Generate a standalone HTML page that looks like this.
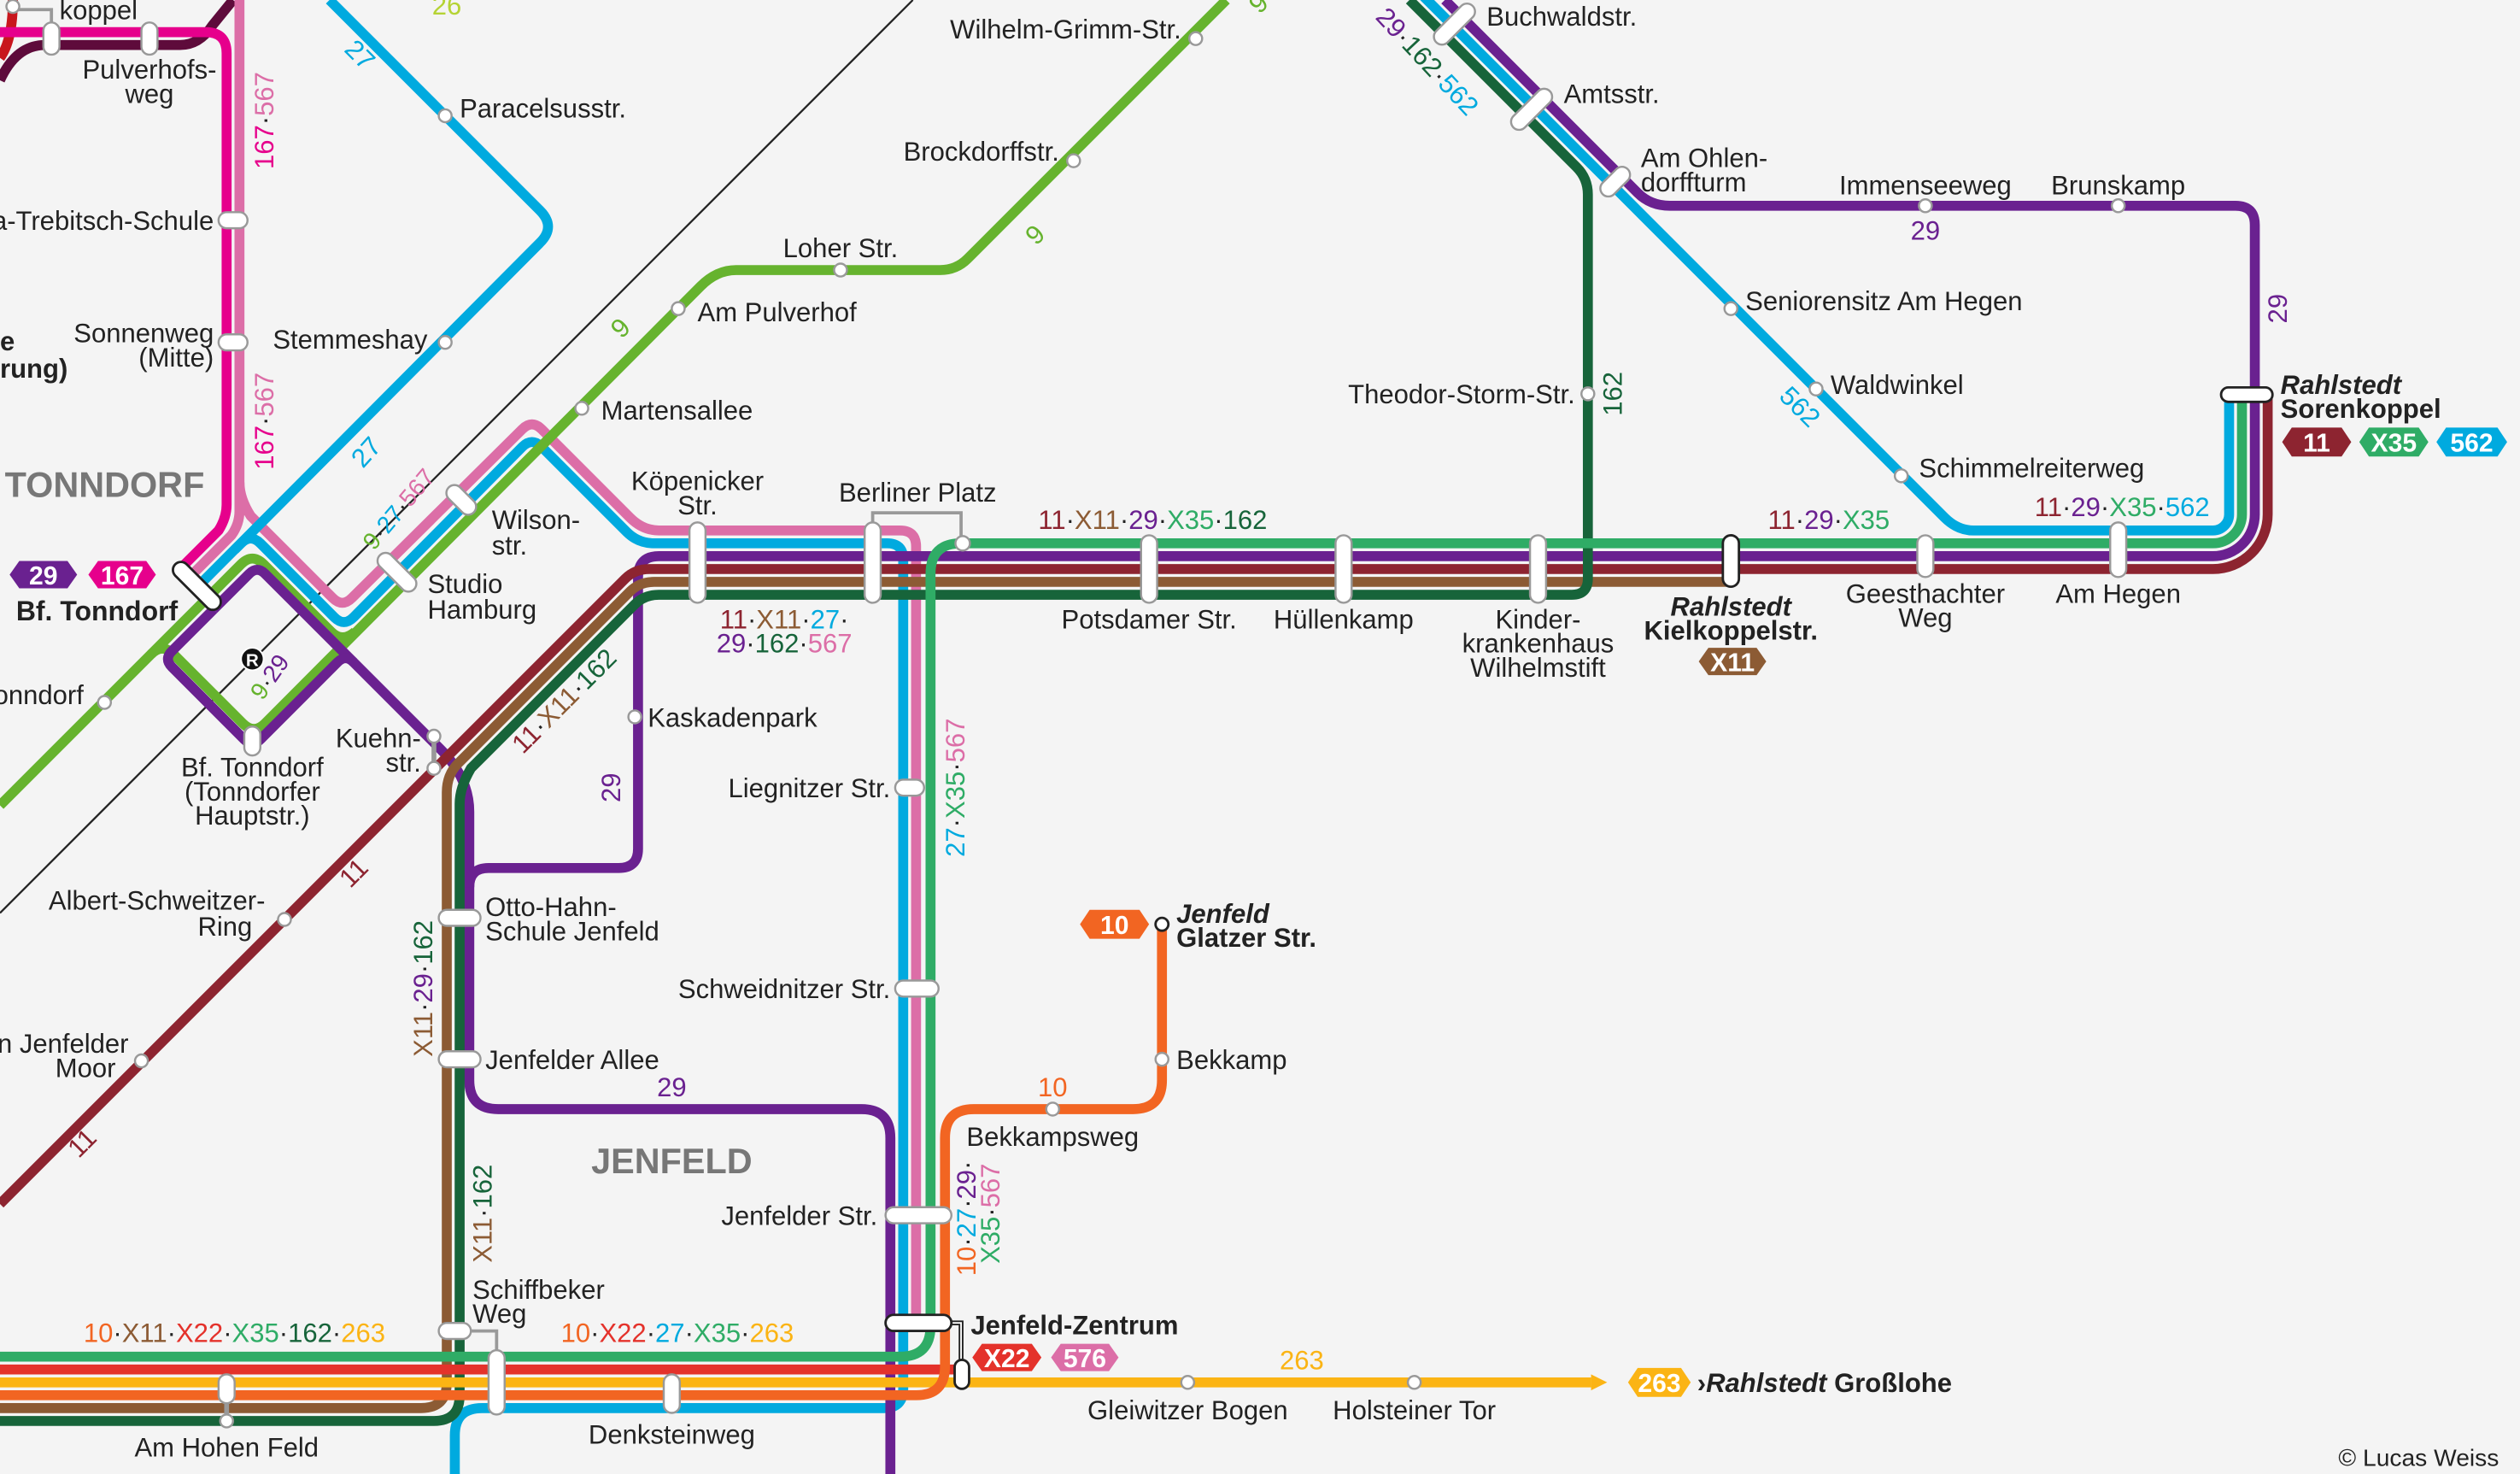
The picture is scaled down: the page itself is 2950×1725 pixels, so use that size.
<!DOCTYPE html>
<html><head><meta charset="utf-8"><style>
html,body{margin:0;padding:0;background:#f4f4f4;overflow:hidden}
svg{display:block}
text{font-family:"Liberation Sans Narrow","Liberation Sans",sans-serif;font-size:16.5px}
.b{font-weight:bold}
.bi{font-weight:bold;font-style:italic}
.ln{fill:none;stroke-width:6.2;stroke-linejoin:round;stroke-linecap:butt}
.st{fill:#fff;stroke:#999;stroke-width:1.3}
.sd{fill:#fff;stroke:#222;stroke-width:1.5}
.bt{fill:#fff;font-weight:bold;font-size:16px;text-anchor:middle}
.m{text-anchor:middle}
.e{text-anchor:end}
</style></head><body>
<svg width="2950" height="1725" viewBox="0 0 1568 917" preserveAspectRatio="none" xmlns="http://www.w3.org/2000/svg">
<rect width="1568" height="917" fill="#f4f4f4"/>
<path d="M0,568 L568,0" stroke="#222" stroke-width="1.2" fill="none"/>
<path class="ln" stroke="#c8161d" d="M0,36 Q8,25 8,0"/>
<path class="ln" stroke="#5e0b3b" d="M0,50 Q10,28 28,28 H112 Q124,28 132,16 L145,0"/>
<path class="ln" stroke="#e6008c" d="M0,20 H128 Q141,20 141,33 V314 Q141,322 136,330 L112,354"/>
<path class="ln" stroke="#dc6ea7" d="M149,0 V318 Q149,326 144,333 L118,359"/>
<path class="ln" stroke="#dc6ea7" d="M149,300 Q149,310 156,321 L207,372 Q213,378 219,372 L325,267 Q331,261 337,267 L392,322 Q400,330 410,330 H560 Q570,330 570,340 V823"/>
<path class="ln" stroke="#00aadf" d="M205,0 L336,131 Q346,141 336,151 L123,365"/>
<path class="ln" stroke="#00aadf" d="M146,342 L150,338 Q156,332 162,338 L208,384 Q214,390 220,384 L325,278 Q331,272 337,278 L390,331 Q397,338 407,338 H552 Q562,338 562,348 V864 Q562,876 550,876 H300 Q283,876 283,893 V917"/>
<path class="ln" stroke="#00aadf" d="M880,-8 L1210,322 Q1218,330 1228,330 H1377 A10,10 0 0 0 1387,320 V246"/>
<path class="ln" stroke="#66b32e" d="M0,501 L150,351 Q157,344 164,351 L206,393 Q213,400 221,393"/>
<path class="ln" stroke="#66b32e" d="M94,407 Q101,400 108,407 L151,450 Q158,457 165,450 L436,178 Q446,168 458,168 H585 Q595,168 602,161 L763,0"/>
<path class="ln" stroke="#6a2190" d="M133,379 L155,357 Q160,352 165,357 L274,466 Q292,484 292,505 V672 Q292,690 310,690 H536 Q554,690 554,708 V917"/>
<path class="ln" stroke="#6a2190" d="M133,379 L107,405 Q102,410 107,415 L152,460 Q157,465 162,460 L210,412 Q215,407 220,412"/>
<path class="ln" stroke="#6a2190" d="M899,0 L1019,120 Q1027,128 1039,128 H1391 Q1403,128 1403,140 V320 A26,26 0 0 1 1377,346 H410 Q397,346 397,359 V528 Q397,540 385,540 H304 Q292,540 292,552"/>
<path class="ln" stroke="#8d2430" d="M0,749 L389,360 Q395,354 404,354 H1377 A34,34 0 0 0 1411,320 V246"/>
<path class="ln" stroke="#8c5b34" d="M0,876 H262 Q278,876 278,860 V493 Q278,482 285,475 L392,368 Q398,362 407,362 H1077"/>
<path class="ln" stroke="#17643a" d="M0,884 H270 Q286,884 286,868 V500 Q286,490 293,478 L395,376 Q401,370 410,370 H978 Q988,370 988,360 V121 Q988,111 981,104 L877,0"/>
<path class="ln" stroke="#2fac66" d="M0,844 H560 Q579,844 579,825 V357 Q579,338 598,338 H1377 A18,18 0 0 0 1395,320 V246"/>
<path class="ln" stroke="#e4322b" d="M0,852 H599"/>
<path class="ln" stroke="#fbb414" d="M0,860 H990"/>
<path d="M990,855 L1000,860 L990,865Z" fill="#fbb414"/>
<path class="ln" stroke="#f26522" d="M0,868 H570 Q588,868 588,850 V708 Q588,690 606,690 H705 Q723,690 723,672 V575"/>

<circle cx="157" cy="410" r="7" fill="#111" stroke="#fff" stroke-width="1"/>
<text x="157" y="414.5" class="m b" style="font-size:11px;fill:#fff">R</text>

<g>
<path d="M32,18 V6 H10" stroke="#999" stroke-width="2" fill="none"/>
<circle class="st" cx="8" cy="4" r="4"/>
<rect class="st" x="27" y="14" width="10" height="20" rx="5"/>
<rect class="st" x="88" y="14" width="10" height="20" rx="5"/>
<rect class="st" x="136" y="132" width="18" height="10" rx="5"/>
<rect class="st" x="136" y="208" width="18" height="10" rx="5"/>
<circle class="st" cx="277" cy="72" r="4"/>
<circle class="st" cx="277" cy="213" r="4"/>
<rect class="sd" x="-5" y="-19" width="10" height="38" rx="5" transform="translate(122.5,364.5) rotate(-45)"/>
<rect class="st" x="-5" y="-15" width="10" height="30" rx="5" transform="translate(247,356) rotate(-45)"/>
<rect class="st" x="-5" y="-11" width="10" height="22" rx="5" transform="translate(287,311) rotate(-45)"/>
<rect class="st" x="152" y="452" width="10" height="18" rx="5"/>
<circle class="st" cx="65" cy="437" r="4"/>
<path d="M270,458 V478" stroke="#999" stroke-width="3"/>
<circle class="st" cx="270" cy="458" r="4"/>
<circle class="st" cx="270" cy="478" r="4"/>
<circle class="st" cx="362" cy="254" r="4"/>
<circle class="st" cx="422" cy="192" r="4"/>
<circle class="st" cx="523" cy="168" r="4"/>
<circle class="st" cx="668" cy="100" r="4"/>
<circle class="st" cx="744" cy="24" r="4"/>
<circle class="st" cx="177" cy="572" r="4"/>
<circle class="st" cx="88" cy="660" r="4"/>
<rect class="st" x="429" y="325" width="10" height="50" rx="5"/>
<path d="M543,325 V319 H598 V334" stroke="#999" stroke-width="2" fill="none"/>
<rect class="st" x="538" y="325" width="10" height="50" rx="5"/>
<circle class="st" cx="599" cy="338" r="4.5"/>
<rect class="st" x="710" y="333" width="10" height="42" rx="5"/>
<rect class="st" x="831" y="333" width="10" height="42" rx="5"/>
<rect class="st" x="952" y="333" width="10" height="42" rx="5"/>
<rect class="sd" x="1072" y="333" width="10" height="32" rx="5"/>
<rect class="st" x="1193" y="333" width="10" height="26" rx="5"/>
<rect class="st" x="1313" y="325" width="10" height="34" rx="5"/>
<rect class="sd" x="1382" y="241" width="32" height="9" rx="4.5"/>
<circle class="st" cx="988" cy="245" r="4"/>
<circle class="st" cx="1077" cy="192" r="4"/>
<circle class="st" cx="1130" cy="242" r="4"/>
<circle class="st" cx="1183" cy="296" r="4"/>
<circle class="st" cx="1198" cy="128" r="4"/>
<circle class="st" cx="1318" cy="128" r="4"/>
<rect class="st" x="-5" y="-11" width="10" height="22" rx="5" transform="translate(1005,113) rotate(45)"/>
<rect class="st" x="-5" y="-16" width="10" height="32" rx="5" transform="translate(953,68) rotate(45)"/>
<rect class="st" x="-5" y="-16" width="10" height="32" rx="5" transform="translate(905,15) rotate(45)"/>
<circle class="st" cx="395" cy="446" r="4"/>
<rect class="st" x="273" y="566" width="26" height="10" rx="5"/>
<rect class="st" x="273" y="654" width="26" height="10" rx="5"/>
<rect class="st" x="557" y="485" width="18" height="10" rx="5"/>
<rect class="st" x="557" y="610" width="27" height="10" rx="5"/>
<rect class="st" x="551" y="751" width="41" height="10" rx="5"/>
<path d="M592,823 H598 V848" stroke="#222" stroke-width="3" fill="none"/>
<path d="M592,823 H598 V848" stroke="#fff" stroke-width="1" fill="none"/>
<rect class="sd" x="551" y="818" width="41" height="10" rx="5"/>
<rect class="sd" x="594" y="846" width="9" height="18" rx="4.5"/>
<circle class="st" cx="655" cy="690" r="4"/>
<circle class="st" cx="723" cy="659" r="4"/>
<circle class="sd" cx="723" cy="575" r="4"/>
<circle class="st" cx="739" cy="860" r="4"/>
<circle class="st" cx="880" cy="860" r="4"/>
<rect class="st" x="413" y="855" width="10" height="24" rx="5"/>
<path d="M290,828 H309 V842" stroke="#999" stroke-width="2" fill="none"/>
<rect class="st" x="304" y="840" width="10" height="40" rx="5"/>
<rect class="st" x="273" y="823" width="20" height="10" rx="5"/>
<path d="M141,870 V884" stroke="#999" stroke-width="3"/>
<rect class="st" x="136" y="855" width="10" height="18" rx="5"/>
<circle class="st" cx="141" cy="884" r="4"/>
</g>

<g>
<polygon points="6,357.5 12,349 42,349 48,357.5 42,366 12,366" fill="#6a2190"/><text class="bt" x="27" y="363.5">29</text>
<polygon points="55,357.5 61,349 91,349 97,357.5 91,366 61,366" fill="#e6008c"/><text class="bt" x="76" y="363.5">167</text>
<polygon points="1057,411.5 1063,403 1093,403 1099,411.5 1093,420 1063,420" fill="#8c5b34"/><text class="bt" x="1078" y="417.5">X11</text>
<polygon points="1420,275 1426,266 1457,266 1463,275 1457,284 1426,284" fill="#8d2430"/><text class="bt" x="1441.5" y="281">11</text>
<polygon points="1468,275 1474,266 1505,266 1511,275 1505,284 1474,284" fill="#2fac66"/><text class="bt" x="1489.5" y="281">X35</text>
<polygon points="1516,275 1522,266 1554,266 1560,275 1554,284 1522,284" fill="#00aadf"/><text class="bt" x="1538" y="281">562</text>
<polygon points="672,575 678,566 709,566 715,575 709,584 678,584" fill="#f26522"/><text class="bt" x="693.5" y="581">10</text>
<polygon points="605,844.5 611,836 642,836 648,844.5 642,853 611,853" fill="#e4322b"/><text class="bt" x="626.5" y="850.5">X22</text>
<polygon points="654,844.5 660,836 690,836 696,844.5 690,853 660,853" fill="#dc6ea7"/><text class="bt" x="675" y="850.5">576</text>
<polygon points="1013,860 1019,851 1046,851 1052,860 1046,869 1019,869" fill="#fbb414"/><text class="bt" x="1032.5" y="866">263</text>
</g>

<g fill="#222">
<text x="37" y="12">koppel</text>
<text x="93" y="49" class="m">Pulverhofs-</text>
<text x="93" y="64" class="m">weg</text>
<text transform="translate(170,75) rotate(-90)" class="m"><tspan fill="#e6008c">167</tspan>·<tspan fill="#dc6ea7">567</tspan></text>
<text transform="translate(170,262) rotate(-90)" class="m"><tspan fill="#e6008c">167</tspan>·<tspan fill="#dc6ea7">567</tspan></text>
<text transform="translate(220,38) rotate(45)" class="m" fill="#00aadf">27</text>
<text transform="translate(232,285) rotate(-48)" class="m" fill="#00aadf">27</text>
<text x="278" y="9" class="m" fill="#b5d334">26</text>
<text x="286" y="73">Paracelsusstr.</text>
<text x="133" y="143" class="e">a-Trebitsch-Schule</text>
<text x="133" y="213" class="e">Sonnenweg</text>
<text x="133" y="228" class="e">(Mitte)</text>
<text x="0" y="218" class="b">e</text>
<text x="0" y="235" class="b">rung)</text>
<text x="266" y="217" class="e">Stemmeshay</text>
<text x="3" y="309" class="b" style="font-size:22px;fill:#777">TONNDORF</text>
<text x="10" y="386" class="b" style="font-size:17px">Bf. Tonndorf</text>
<text x="52" y="438" class="e">onndorf</text>
<text transform="translate(252,320) rotate(-50)" class="m" style="font-size:15px"><tspan fill="#66b32e">9</tspan>·<tspan fill="#00aadf">27</tspan>·<tspan fill="#dc6ea7">567</tspan></text>
<text transform="translate(172,424) rotate(-55)" class="m" style="font-size:15px"><tspan fill="#66b32e">9</tspan>·<tspan fill="#6a2190">29</tspan></text>
<text x="157" y="483" class="m">Bf. Tonndorf</text>
<text x="157" y="498" class="m">(Tonndorfer</text>
<text x="157" y="513" class="m">Hauptstr.)</text>
<text x="262" y="465" class="e">Kuehn-</text>
<text x="262" y="480" class="e">str.</text>
<text x="266" y="369">Studio</text>
<text x="266" y="385">Hamburg</text>
<text x="306" y="329">Wilson-</text>
<text x="306" y="345">str.</text>
<text x="374" y="261">Martensallee</text>
<text x="434" y="200">Am Pulverhof</text>
<text x="523" y="160" class="m">Loher Str.</text>
<text x="659" y="100" class="e">Brockdorffstr.</text>
<text x="735" y="24" class="e">Wilhelm-Grimm-Str.</text>
<text transform="translate(648,150) rotate(-45)" class="m" fill="#66b32e">9</text>
<text transform="translate(390,208) rotate(-45)" class="m" fill="#66b32e">9</text>
<text transform="translate(787,6) rotate(-45)" class="m" fill="#66b32e">9</text>
<text x="434" y="305" class="m">Köpenicker</text>
<text x="434" y="320" class="m">Str.</text>
<text x="571" y="312" class="m">Berliner Platz</text>
<text x="488" y="391" class="m"><tspan fill="#8d2430">11</tspan>·<tspan fill="#8c5b34">X11</tspan>·<tspan fill="#00aadf">27</tspan>·</text>
<text x="488" y="406" class="m"><tspan fill="#6a2190">29</tspan>·<tspan fill="#17643a">162</tspan>·<tspan fill="#dc6ea7">567</tspan></text>
<text transform="translate(355,440) rotate(-45)" class="m"><tspan fill="#8d2430">11</tspan>·<tspan fill="#8c5b34">X11</tspan>·<tspan fill="#17643a">162</tspan></text>
<text x="403" y="452">Kaskadenpark</text>
<text transform="translate(386,490) rotate(-90)" class="m" fill="#6a2190">29</text>
<text transform="translate(269,615) rotate(-90)" class="m"><tspan fill="#8c5b34">X11</tspan>·<tspan fill="#6a2190">29</tspan>·<tspan fill="#17643a">162</tspan></text>
<text x="302" y="570">Otto-Hahn-</text>
<text x="302" y="585">Schule Jenfeld</text>
<text x="302" y="665">Jenfelder Allee</text>
<text x="418" y="682" class="m" fill="#6a2190">29</text>
<text x="418" y="730" class="m b" style="font-size:22px;fill:#777">JENFELD</text>
<text x="165" y="566" class="e">Albert-Schweitzer-</text>
<text x="140" y="582" class="m">Ring</text>
<text transform="translate(224,547) rotate(-45)" class="m" fill="#8d2430">11</text>
<text transform="translate(55,715) rotate(-45)" class="m" fill="#8d2430">11</text>
<text x="80" y="655" class="e">n Jenfelder</text>
<text x="72" y="670" class="e">Moor</text>
<text transform="translate(306,755) rotate(-90)" class="m"><tspan fill="#8c5b34">X11</tspan>·<tspan fill="#17643a">162</tspan></text>
<text x="294" y="808">Schiffbeker</text>
<text x="294" y="823">Weg</text>
<text x="52" y="835"><tspan fill="#f26522">10</tspan>·<tspan fill="#8c5b34">X11</tspan>·<tspan fill="#e4322b">X22</tspan>·<tspan fill="#2fac66">X35</tspan>·<tspan fill="#17643a">162</tspan>·<tspan fill="#fbb414">263</tspan></text>
<text x="349" y="835"><tspan fill="#f26522">10</tspan>·<tspan fill="#e4322b">X22</tspan>·<tspan fill="#00aadf">27</tspan>·<tspan fill="#2fac66">X35</tspan>·<tspan fill="#fbb414">263</tspan></text>
<text x="141" y="906" class="m">Am Hohen Feld</text>
<text x="418" y="898" class="m">Denksteinweg</text>
<text x="554" y="496" class="e">Liegnitzer Str.</text>
<text x="554" y="621" class="e">Schweidnitzer Str.</text>
<text x="546" y="762" class="e">Jenfelder Str.</text>
<text transform="translate(600,490) rotate(-90)" class="m"><tspan fill="#00aadf">27</tspan>·<tspan fill="#2fac66">X35</tspan>·<tspan fill="#dc6ea7">567</tspan></text>
<text x="655" y="682" class="m" fill="#f26522">10</text>
<text x="655" y="713" class="m">Bekkampsweg</text>
<text transform="translate(607,758) rotate(-90)" class="m"><tspan fill="#f26522">10</tspan>·<tspan fill="#00aadf">27</tspan>·<tspan fill="#6a2190">29</tspan>·</text>
<text transform="translate(622,755) rotate(-90)" class="m"><tspan fill="#2fac66">X35</tspan>·<tspan fill="#dc6ea7">567</tspan></text>
<text x="604" y="830" class="b">Jenfeld-Zentrum</text>
<text x="810" y="852" class="m" fill="#fbb414">263</text>
<text x="739" y="883" class="m">Gleiwitzer Bogen</text>
<text x="880" y="883" class="m">Holsteiner Tor</text>
<text x="1056" y="866" class="b">›<tspan font-style="italic">Rahlstedt</tspan> Großlohe</text>
<text x="732" y="574" class="bi">Jenfeld</text>
<text x="732" y="589" class="b">Glatzer Str.</text>
<text x="732" y="665">Bekkamp</text>
<text x="646" y="329"><tspan fill="#8d2430">11</tspan>·<tspan fill="#8c5b34">X11</tspan>·<tspan fill="#6a2190">29</tspan>·<tspan fill="#2fac66">X35</tspan>·<tspan fill="#17643a">162</tspan></text>
<text x="715" y="391" class="m">Potsdamer Str.</text>
<text x="836" y="391" class="m">Hüllenkamp</text>
<text x="957" y="391" class="m">Kinder-</text>
<text x="957" y="406" class="m">krankenhaus</text>
<text x="957" y="421" class="m">Wilhelmstift</text>
<text x="1077" y="383" class="m bi">Rahlstedt</text>
<text x="1077" y="398" class="m b">Kielkoppelstr.</text>
<text x="1100" y="329"><tspan fill="#8d2430">11</tspan>·<tspan fill="#6a2190">29</tspan>·<tspan fill="#2fac66">X35</tspan></text>
<text x="1198" y="375" class="m">Geesthachter</text>
<text x="1198" y="390" class="m">Weg</text>
<text x="1318" y="375" class="m">Am Hegen</text>
<text x="1266" y="321"><tspan fill="#8d2430">11</tspan>·<tspan fill="#6a2190">29</tspan>·<tspan fill="#2fac66">X35</tspan>·<tspan fill="#00aadf">562</tspan></text>
<text x="1419" y="245" class="bi">Rahlstedt</text>
<text x="1419" y="260" class="b">Sorenkoppel</text>
<text transform="translate(1423,192) rotate(-90)" class="m" fill="#6a2190">29</text>
<text transform="translate(1009,245) rotate(-90)" class="m" fill="#17643a">162</text>
<text x="980" y="251" class="e">Theodor-Storm-Str.</text>
<text x="1086" y="193">Seniorensitz Am Hegen</text>
<text x="1139" y="245">Waldwinkel</text>
<text x="1194" y="297">Schimmelreiterweg</text>
<text transform="translate(1116,257) rotate(45)" class="m" fill="#00aadf">562</text>
<text x="1198" y="121" class="m">Immenseeweg</text>
<text x="1198" y="149" class="m" fill="#6a2190">29</text>
<text x="1318" y="121" class="m">Brunskamp</text>
<text x="1021" y="104">Am Ohlen-</text>
<text x="1021" y="119">dorffturm</text>
<text x="973" y="64">Amtsstr.</text>
<text x="925" y="16">Buchwaldstr.</text>
<text transform="translate(884,42) rotate(47)" class="m"><tspan fill="#6a2190">29</tspan>·<tspan fill="#17643a">162</tspan>·<tspan fill="#00aadf">562</tspan></text>
<text x="1455" y="912" style="font-size:15px">© Lucas Weiss</text>
</g>
</svg>
</body></html>
